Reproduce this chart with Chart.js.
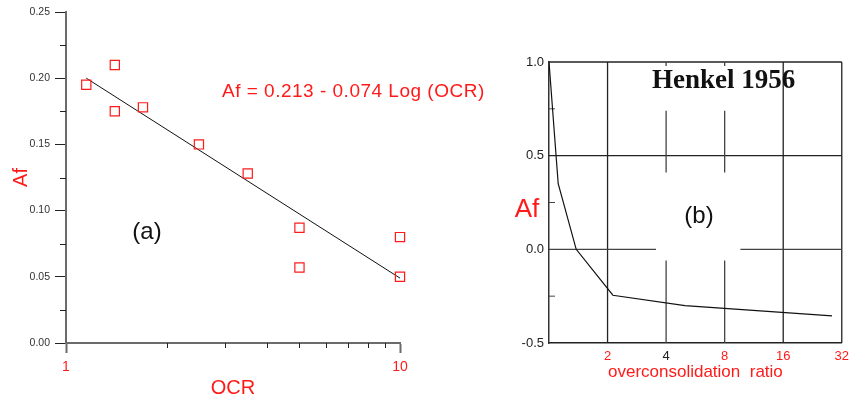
<!DOCTYPE html>
<html>
<head>
<meta charset="utf-8">
<script src="https://cdn.jsdelivr.net/npm/chart.js@4.4.1/dist/chart.umd.min.js"></script>
<style>
  body { margin: 0; background: #fff; }
  #wrapA { position: absolute; left: 0; top: 0; }
  #wrapB { position: absolute; left: 430px; top: 0; }
</style>
</head>
<body>
<div id="wrapA"><canvas id="chartA" width="500" height="401"></canvas></div>
<div id="wrapB"><canvas id="chartB" width="425" height="401"></canvas></div>
<script>
// (a) measured points
const ocrValues = [1.15, 1.4, 1.4, 1.7, 2.5, 3.5, 5, 5, 10, 10];
const afValues = [0.195, 0.210, 0.175, 0.178, 0.150, 0.128, 0.087, 0.057, 0.080, 0.050];
// fitted line as drawn
const fitOcr = [1.15, 10];
const fitAf = [0.200, 0.049];
const yTicksA = [0, 0.05, 0.10, 0.15, 0.20, 0.25];
const yMinorA = [0.025, 0.075, 0.125, 0.175, 0.225];
const xTicksA = [1, 10];
const xMinorA = [2, 3, 4, 5, 6, 7, 8, 9];

// (b) Henkel 1956 curve
const henkelOcr = [1, 1.115, 1.38, 2.13, 5.0, 28.5];
const henkelAf = [1.0, 0.35, 0.0, -0.245, -0.30, -0.355];
const xTicksB = [2, 4, 8, 16, 32];
const yTicksB = [-0.5, 0, 0.5, 1.0];
const yMinorB = [-0.25, 0.25, 0.75];

const RED = '#ff1a1a';
const SANS = 'Liberation Sans, Arial, sans-serif';
Chart.defaults.font.family = SANS;

const decorA = {
  id: 'decorA',
  afterDraw(chart) {
    const { ctx, scales: { x, y } } = chart;
    ctx.save();
    ctx.strokeStyle = '#222';
    ctx.lineWidth = 1;
    // minor ticks
    yMinorA.forEach(v => {
      const py = Math.round(y.getPixelForValue(v)) + 0.5;
      ctx.beginPath(); ctx.moveTo(x.left - 6, py); ctx.lineTo(x.left, py); ctx.stroke();
    });
    xMinorA.forEach(v => {
      const px = Math.round(x.getPixelForValue(v)) + 0.5;
      ctx.beginPath(); ctx.moveTo(px, y.bottom); ctx.lineTo(px, y.bottom + 5); ctx.stroke();
    });
    // equation
    ctx.fillStyle = RED;
    ctx.font = '19px ' + SANS;
    ctx.letterSpacing = '0.5px';
    ctx.textBaseline = 'alphabetic';
    ctx.textAlign = 'left';
    ctx.fillText('Af = 0.213 - 0.074 Log (OCR)', 222, 97);
    ctx.letterSpacing = '0px';
    // panel label
    ctx.fillStyle = '#111';
    ctx.font = '24px ' + SANS;
    ctx.textAlign = 'center';
    ctx.textBaseline = 'middle';
    ctx.fillText('(a)', 147, 232);
    ctx.restore();
  }
};

new Chart(document.getElementById('chartA'), {
  type: 'scatter',
  data: {
    datasets: [{
      data: ocrValues.map((v, i) => ({ x: v, y: afValues[i] })),
      pointStyle: 'rect',
      radius: 6.5,
      borderColor: RED,
      backgroundColor: 'rgba(0,0,0,0)',
      borderWidth: 1.2,
      clip: false
    }, {
      data: fitOcr.map((v, i) => ({ x: v, y: fitAf[i] })),
      showLine: true,
      borderColor: '#111',
      borderWidth: 1,
      pointRadius: 0
    }]
  },
  options: {
    responsive: false,
    animation: false,
    layout: { padding: { top: 12, right: 100, left: 0, bottom: 0 } },
    plugins: { legend: { display: false }, tooltip: { enabled: false } },
    scales: {
      x: {
        type: 'logarithmic', min: 1, max: 10,
        afterBuildTicks: s => { s.ticks = xTicksA.map(v => ({ value: v })); },
        afterFit: s => { s.height = 58; },
        grid: { drawOnChartArea: false, tickLength: 10, tickColor: '#6b6b6b', tickWidth: 2 },
        border: { color: '#6b6b6b', width: 2 },
        ticks: { color: RED, font: { size: 14 }, padding: 6, autoSkip: false, maxRotation: 0, callback: v => String(v) },
        title: { display: true, text: 'OCR', color: RED, font: { size: 20 }, padding: { top: 0, bottom: 1 } }
      },
      y: {
        min: 0, max: 0.25,
        afterBuildTicks: s => { s.ticks = yTicksA.map(v => ({ value: v })); },
        afterFit: s => { s.width = 66; },
        grid: { drawOnChartArea: false, tickLength: 11, tickColor: '#222', tickWidth: 1 },
        border: { color: '#6b6b6b', width: 2 },
        ticks: { color: '#333', font: { size: 10.5 }, padding: 5, callback: v => v.toFixed(2) },
        title: { display: true, text: 'Af', color: RED, font: { size: 20 }, padding: { top: 9, bottom: 0 } }
      }
    }
  },
  plugins: [decorA]
});

const decorB = {
  id: 'decorB',
  beforeDatasetsDraw(chart) {
    const { ctx, scales: { x, y } } = chart;
    const X = v => x.getPixelForValue(v), Y = v => y.getPixelForValue(v);
    const seg = (x1, y1, x2, y2) => { ctx.beginPath(); ctx.moveTo(x1, y1); ctx.lineTo(x2, y2); ctx.stroke(); };
    ctx.save();
    ctx.strokeStyle = '#222';
    ctx.lineWidth = 1.3;
    // frame top and right
    seg(x.left, y.top, x.right, y.top);
    seg(x.right, y.top, x.right, y.bottom);
    // full grid lines
    seg(X(2), y.top, X(2), y.bottom);
    seg(X(16), y.top, X(16), y.bottom);
    seg(x.left, Y(0.5), x.right, Y(0.5));
    // broken grid lines around labels
    ctx.strokeStyle = '#444';
    [4, 8].forEach(v => {
      seg(X(v), Y(0.74), X(v), Y(0.41));
      seg(X(v), Y(-0.06), X(v), y.bottom);
      seg(X(v), y.top, X(v), y.top + 4);
    });
    seg(x.left, Y(0), X(3.55), Y(0));
    seg(X(9.64), Y(0), x.right, Y(0));
    // minor inward ticks
    ctx.lineWidth = 1;
    yMinorB.forEach(v => seg(x.left, Y(v), x.left + 6, Y(v)));
    ctx.restore();
  },
  afterDraw(chart) {
    const { ctx } = chart;
    ctx.save();
    ctx.fillStyle = RED;
    ctx.font = '26px ' + SANS;
    ctx.textAlign = 'center';
    ctx.textBaseline = 'alphabetic';
    ctx.fillText('Af', 97, 216.5);
    ctx.fillStyle = '#111';
    ctx.font = '24px ' + SANS;
    ctx.textBaseline = 'middle';
    ctx.fillText('(b)', 269, 216.5);
    ctx.font = 'bold 27px Liberation Serif, Times New Roman, serif';
    ctx.textAlign = 'left';
    ctx.textBaseline = 'alphabetic';
    ctx.fillText('Henkel 1956', 222, 88);
    ctx.restore();
  }
};

new Chart(document.getElementById('chartB'), {
  type: 'scatter',
  data: {
    datasets: [{
      data: henkelOcr.map((v, i) => ({ x: v, y: henkelAf[i] })),
      showLine: true,
      borderColor: '#111',
      borderWidth: 1.2,
      pointRadius: 0
    }]
  },
  options: {
    responsive: false,
    animation: false,
    layout: { padding: { top: 62, right: 10, left: 0, bottom: 0 } },
    plugins: { legend: { display: false }, tooltip: { enabled: false } },
    scales: {
      x: {
        type: 'logarithmic', min: 1, max: 32,
        afterBuildTicks: s => { s.ticks = xTicksB.map(v => ({ value: v })); },
        afterFit: s => { s.height = 58; },
        grid: { drawOnChartArea: false, drawTicks: false },
        border: { color: '#222', width: 1.5 },
        ticks: {
          color: c => (c.tick && c.tick.value === 4) ? '#222' : RED,
          font: { size: 13 }, padding: 6, autoSkip: false, maxRotation: 0,
          callback: v => String(v)
        },
        title: { display: true, text: 'overconsolidation  ratio', color: RED, font: { size: 17 }, padding: { top: 0, bottom: 18 } }
      },
      y: {
        min: -0.5, max: 1,
        afterBuildTicks: s => { s.ticks = yTicksB.map(v => ({ value: v })); },
        afterFit: s => { s.width = 119; },
        grid: { drawOnChartArea: false, drawTicks: false },
        border: { color: '#333', width: 1.5 },
        ticks: { color: '#222', font: { size: 13 }, padding: 5, callback: v => v.toFixed(1) }
      }
    }
  },
  plugins: [decorB]
});
</script>
</body>
</html>
